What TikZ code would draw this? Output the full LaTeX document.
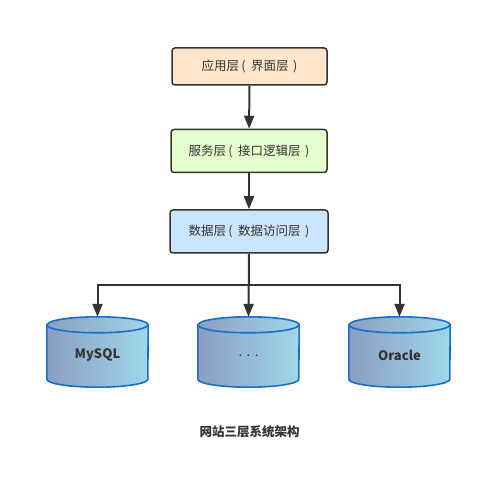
\documentclass[tikz,border=0pt]{standalone}
\usepackage{fontspec}
\newfontfamily\cjk{Noto Sans CJK SC}
\usetikzlibrary{arrows.meta,calc}
\definecolor{txt}{HTML}{333333}
\definecolor{edge}{HTML}{333333}
\definecolor{fillA}{HTML}{FFE6CC}
\definecolor{fillB}{HTML}{E6FFCC}
\definecolor{fillC}{HTML}{CCE5FF}
\definecolor{dbL}{HTML}{8A9EC2}
\definecolor{dbR}{HTML}{9FD7EA}
\definecolor{dbEdge}{HTML}{1A6EC4}
\newcommand{\lp}{\,(\hspace{0.45em}}
\newcommand{\rp}{\hspace{0.35em})}
\begin{document}
\begin{tikzpicture}[x=1pt,y=1pt,
  layer/.style={draw=edge,line width=1.5pt,rounded corners=3pt,font=\cjk\fontsize{12.5}{14}\selectfont,text=txt,inner sep=0pt},
  arr/.style={draw=edge,line width=2pt,-{Triangle[width=10pt,length=13pt]}},
  dbnode/.style={minimum width=101pt,minimum height=70pt,inner sep=0pt,draw=none},
  dbtext/.style={font=\cjk\bfseries\fontsize{13}{15}\selectfont,text=txt},
  dbbody/.style={draw=dbEdge,line width=1.6pt,left color=dbL,right color=dbR},
  dbrim/.style={draw=dbEdge,line width=1.6pt}
]
\useasboundingbox (0,0) rectangle (482,-481);
\fill[white] (0,0) rectangle (482,-481);

\node[layer,fill=fillA,minimum width=155pt,minimum height=37pt] (app) at (249.5,-66.5) {应用层\lp 界面层\rp};
\node[layer,fill=fillB,minimum width=156pt,minimum height=43pt] (svc) at (249,-151) {服务层\lp 接口逻辑层\rp};
\node[layer,fill=fillC,minimum width=158pt,minimum height=43pt] (data) at (249,-231.5) {数据层\lp 数据访问层\rp};

\foreach \n/\x in {db1/97.5,db2/248.5,db3/399.5}{
  \node[dbnode] (\n) at (\x,-352) {};
  \draw[dbbody] ([yshift=-8pt]\n.north west) -- ([yshift=8pt]\n.south west)
     arc[start angle=180,end angle=360,x radius=50.5pt,y radius=8pt]
     -- ([yshift=-8pt]\n.north east)
     arc[start angle=0,end angle=180,x radius=50.5pt,y radius=8pt] -- cycle;
  \draw[dbrim] ([yshift=-8pt]\n.north west) arc[start angle=180,end angle=360,x radius=50.5pt,y radius=8pt];
}
\node[dbtext] (t1) at (97.5,-355) {MySQL};
\node[font=\cjk\fontsize{13}{15}\selectfont,text=txt] (t2) at (248.5,-356) {.\hspace{0.35em}.\hspace{0.35em}.};
\node[dbtext] (t3) at (399.5,-355) {Oracle};

\draw[arr] (app) -- (svc);
\draw[arr] (svc) -- (data);
\coordinate (bus) at (249,-284.5);
\draw[arr] (data.south) -- (db2.north);
\draw[arr] (bus) -| (db1.north);
\draw[arr] (bus) -| (db3.north);

\node[font=\cjk\bfseries\fontsize{12.5}{14}\selectfont,text=txt] (title) at (249.5,-432) {网站三层系统架构};
\end{tikzpicture}
\end{document}
